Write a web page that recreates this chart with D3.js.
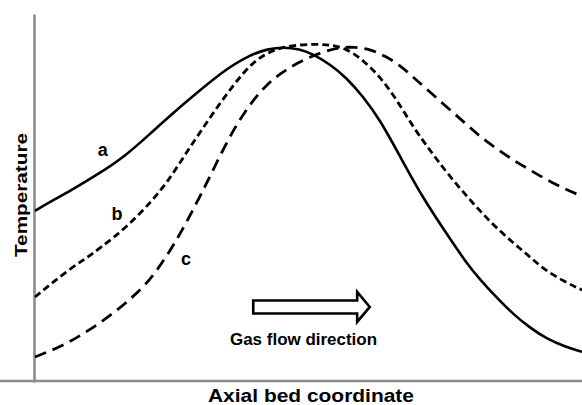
<!DOCTYPE html>
<html>
<head>
<meta charset="utf-8">
<script src="https://cdn.jsdelivr.net/npm/d3@7/dist/d3.min.js"></script>
<style>
  html, body { margin: 0; padding: 0; background: #fff; }
  svg { display: block; font-family: "Liberation Sans", Arial, sans-serif; }
</style>
</head>
<body>
<svg id="chart" width="582" height="405"></svg>
<script>
// Normalised axial coordinate (0-100) and normalised temperature (0-100)
const curveA_x = [0, 2.7, 6.4, 11.9, 16.5, 21.0, 25.6, 30.2, 34.7, 39.3, 42.6, 45.3, 48.4, 50.8, 53.9, 57.0, 59.9, 63.1, 66.7, 70.9, 75.3, 78.6, 81.4, 85.0, 87.4, 90.5, 93.6, 96.9, 100];
const curveA_y = [46.5, 48.9, 51.9, 56.8, 61.4, 67.4, 73.6, 79.3, 84.8, 88.9, 90.5, 91.0, 90.5, 89.1, 86.4, 82.6, 77.7, 71.2, 61.4, 50.0, 40.2, 32.9, 27.7, 22.0, 18.5, 14.7, 11.7, 9.6, 8.2];

const curveB_x = [0, 2.7, 5.9, 9.1, 11.9, 16.8, 21.6, 24.7, 27.4, 30.2, 33.3, 36.6, 39.3, 42.0, 44.8, 47.9, 51.2, 54.0, 56.7, 60.0, 63.1, 66.2, 69.1, 72.2, 75.3, 79.5, 83.2, 87.4, 90.5, 93.2, 96.9, 100];
const curveB_y = [23.1, 26.4, 30.2, 33.4, 36.4, 42.1, 49.5, 55.4, 61.7, 67.9, 74.7, 81.3, 86.1, 89.1, 90.8, 91.6, 91.8, 91.6, 90.8, 87.5, 82.9, 76.6, 69.3, 63.0, 56.8, 49.5, 43.5, 37.8, 34.0, 30.4, 27.2, 25.0];

const curveC_x = [0, 4.6, 8.8, 13.7, 17.9, 21.0, 23.2, 25.6, 27.9, 30.2, 32.9, 36.2, 39.3, 42.4, 45.7, 49.7, 53.0, 55.8, 58.5, 61.2, 64.0, 66.7, 69.1, 72.2, 75.3, 78.6, 81.4, 84.5, 87.4, 90.5, 93.6, 96.9, 100];
const curveC_y = [6.8, 9.5, 13.0, 17.9, 23.1, 27.7, 32.3, 37.8, 44.0, 50.5, 58.7, 68.5, 75.5, 81.0, 84.8, 88.0, 89.9, 91.0, 91.0, 90.5, 88.6, 86.1, 82.9, 78.8, 74.7, 70.4, 66.6, 63.3, 60.3, 57.6, 54.9, 52.4, 50.5];

const curveLabels = ["a", "b", "c"];
const labelX = [12.4, 15.0, 27.6];
const labelY = [61.4, 44.0, 31.8];

const arrowX = [39.9, 58.9, 61.2];   // body start, body end, tip
const arrowY = 20.4;
const arrowText = "Gas flow direction";
const xTitle = "Axial bed coordinate";
const yTitle = "Temperature";

const svg = d3.select("#chart");
const x = d3.scaleLinear().domain([0, 100]).range([35, 582]);
const y = d3.scaleLinear().domain([0, 100]).range([382, 14]);

// axes (no ticks)
const axisColor = "#8c8c8c";
const gx = svg.append("g").attr("transform", "translate(0,381)")
  .call(d3.axisBottom(x).ticks(0).tickSizeOuter(0));
const gy = svg.append("g").attr("transform", "translate(34,0)")
  .call(d3.axisLeft(y).ticks(0).tickSizeOuter(0));
gx.select(".domain").attr("stroke", axisColor).attr("stroke-width", 2.6).attr("d", "M-1,0H582");
gy.select(".domain").attr("stroke", axisColor).attr("stroke-width", 2.6);

const series = [
  { xs: curveA_x, ys: curveA_y, dash: null },
  { xs: curveB_x, ys: curveB_y, dash: "7,4" },
  { xs: curveC_x, ys: curveC_y, dash: "12,7" }
];
const line = d3.line().x(d => x(d[0])).y(d => y(d[1])).curve(d3.curveBasis);

series.forEach(s => {
  const pts = s.xs.map((v, i) => [v, s.ys[i]]);
  svg.append("path")
    .datum(pts)
    .attr("d", line)
    .attr("fill", "none")
    .attr("stroke", "#000")
    .attr("stroke-width", s.dash ? 2.8 : 2.6)
    .attr("stroke-dasharray", s.dash);
});

// curve labels
svg.selectAll("text.clabel").data(curveLabels).enter().append("text")
  .attr("class", "clabel")
  .attr("x", (d, i) => x(labelX[i]))
  .attr("y", (d, i) => y(labelY[i]))
  .attr("text-anchor", "middle")
  .attr("font-size", 18)
  .attr("font-weight", "bold")
  .text(d => d);

// gas flow arrow (hollow)
const ay = y(arrowY);
const bh = 6.5, hh = 15;
const ap = [
  [x(arrowX[0]), ay - bh], [x(arrowX[1]), ay - bh], [x(arrowX[1]), ay - hh],
  [x(arrowX[2]), ay], [x(arrowX[1]), ay + hh], [x(arrowX[1]), ay + bh],
  [x(arrowX[0]), ay + bh]
];
svg.append("path")
  .attr("d", "M" + ap.map(p => p.join(",")).join("L") + "Z")
  .attr("fill", "#fff").attr("stroke", "#000").attr("stroke-width", 2.6)
  .attr("stroke-linejoin", "miter");

svg.append("text")
  .attr("x", 230).attr("y", 345)
  .attr("font-size", 16).attr("font-weight", "bold")
  .attr("textLength", 147).attr("lengthAdjust", "spacingAndGlyphs")
  .text(arrowText);

// axis titles
svg.append("text")
  .attr("x", 208).attr("y", 402)
  .attr("font-size", 18).attr("font-weight", "bold")
  .attr("textLength", 206).attr("lengthAdjust", "spacingAndGlyphs")
  .text(xTitle);

svg.append("text")
  .attr("transform", "translate(27,257) rotate(-90)")
  .attr("x", 0).attr("y", 0)
  .attr("font-size", 17).attr("font-weight", "bold")
  .attr("textLength", 124).attr("lengthAdjust", "spacingAndGlyphs")
  .text(yTitle);
</script>
</body>
</html>
